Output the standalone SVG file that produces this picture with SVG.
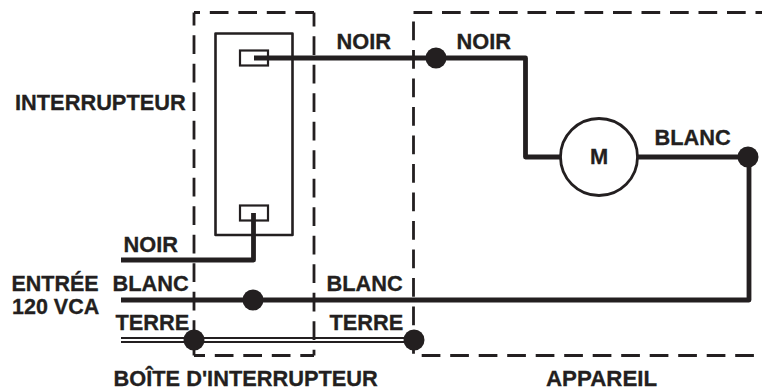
<svg xmlns="http://www.w3.org/2000/svg" width="762" height="390" viewBox="0 0 762 390">
<style>
text{font-family:"Liberation Sans",Arial,sans-serif;font-weight:700;font-size:21.800px;fill:#231f20;stroke:#231f20;stroke-width:.3}
.c{font-size:22.300px}
.e{font-size:21.500px}
.w{fill:none;stroke:#231f20;stroke-width:4.800;stroke-linejoin:round}
.t{fill:none;stroke:#231f20;stroke-width:2.600;stroke-linejoin:round}
.g{fill:none;stroke:#231f20;stroke-width:1.8}
.d{fill:none;stroke:#231f20;stroke-width:2.800;stroke-dasharray:18.700 9.800}
.o{fill:#fff;stroke:#231f20;stroke-width:2.200}
.b{fill:#231f20}
</style>
<g id="boite">
<path class="d" stroke-dashoffset="5.800" d="M194 12.500V355.500"/>
<path class="d" stroke-dashoffset="12.700" d="M194 12.500H314"/>
<path class="d" stroke-dashoffset="4.800" d="M314 12.500V355.500"/>
<path class="d" stroke-dashoffset="7.700" d="M194 355.500H314"/>
<text x="113.500" y="385.500">BOÎTE D'INTERRUPTEUR</text>
</g>
<g id="appareil">
<path class="d" d="M413.500 12.500H762"/>
<path class="d" d="M413.500 21.500V355"/>
<path class="d" d="M421.700 355.500H762"/>
<text class="c" x="546" y="385.500">APPAREIL</text>
</g>
<g id="interrupteur">
<rect class="t" x="215.500" y="33.500" width="77" height="201.500"/>
<rect class="o" x="240" y="50.500" width="28" height="15"/>
<rect class="o" x="240" y="205.500" width="28" height="15"/>
<text x="15" y="110">INTERRUPTEUR</text>
</g>
<g id="moteur">
<circle cx="599" cy="157" r="38.500" fill="#fff" stroke="#231f20" stroke-width="2.800"/>
<text x="599" y="164" text-anchor="middle">M</text>
</g>
<g id="connectors">
<path class="w" d="M254 58H525.500V157H560"/>
<path class="w" d="M638 157H749V300H121"/>
<path class="w" d="M121 260H253.500V213"/>
<path class="g" d="M121 338H413M121 342H413"/>
<circle class="b" cx="436" cy="58" r="10.500"/>
<circle class="b" cx="748" cy="157" r="10.500"/>
<circle class="b" cx="253" cy="300" r="10.500"/>
<circle class="b" cx="194" cy="340" r="10.500"/>
<circle class="b" cx="414" cy="340" r="10.500"/>
</g>
<g id="labels">
<text x="336.500" y="49">NOIR</text>
<text x="456.500" y="49">NOIR</text>
<text x="654.500" y="145">BLANC</text>
<text x="123.500" y="252">NOIR</text>
<text class="e" x="11.500" y="291">ENTRÉE</text>
<text class="e" x="12" y="314">120 VCA</text>
<text x="112.500" y="291">BLANC</text>
<text x="326.500" y="291">BLANC</text>
<text x="115.500" y="330">TERRE</text>
<text x="329.500" y="330">TERRE</text>
</g>
</svg>
